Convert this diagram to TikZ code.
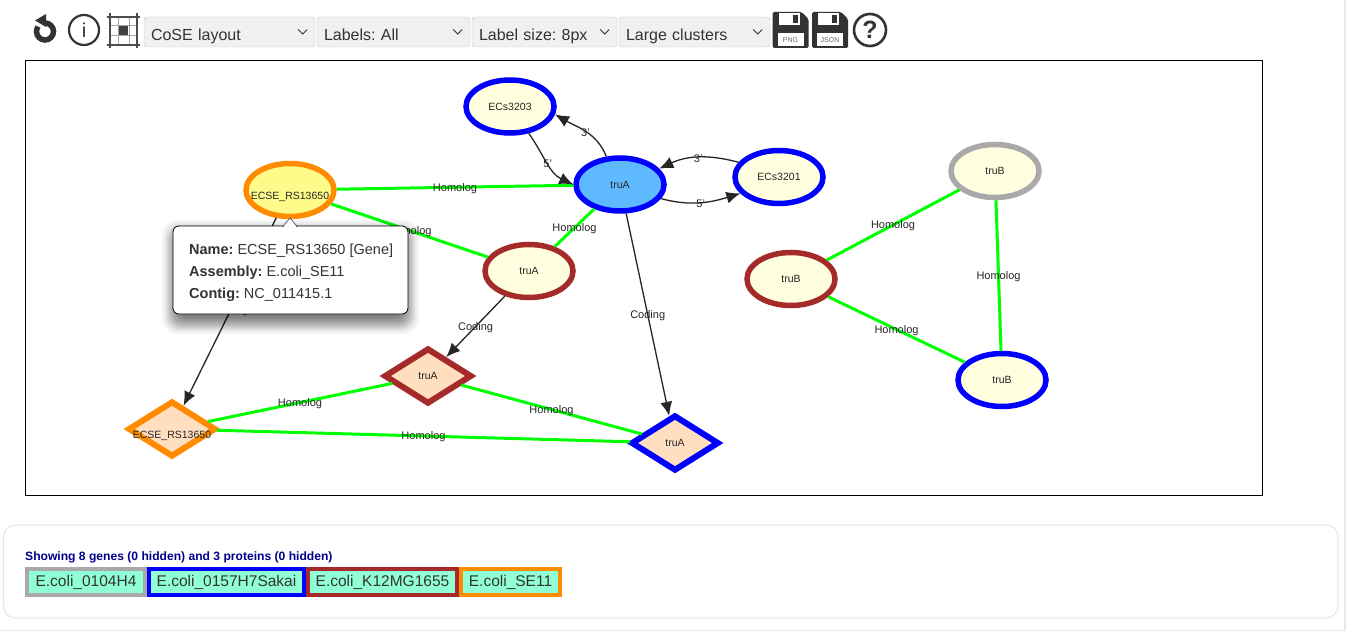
\documentclass[tikz,border=0pt]{standalone}
\usepackage{fontspec}
\setmainfont{Liberation Sans}
\usetikzlibrary{arrows.meta,shapes.geometric}
\definecolor{GrayClr}{HTML}{A9A9A9}
\definecolor{BlueClr}{HTML}{0000FF}
\definecolor{BrownClr}{HTML}{A52A2A}
\definecolor{OrangeClr}{HTML}{FF8C00}
\definecolor{GeneClr}{HTML}{FFFFE0}
\definecolor{PickClr}{HTML}{FFFB8A}
\definecolor{HitClr}{HTML}{5FB9FF}
\definecolor{ProtClr}{HTML}{FFDFC0}
\definecolor{EdgeClr}{HTML}{00FF00}
\definecolor{TagClr}{HTML}{90FFD6}
\definecolor{IconClr}{HTML}{333333}
\newcommand{\PxFont}[1]{\fontsize{#1}{#1}\selectfont}
\newcommand{\SelectBox}[4]{
\node[selectbox,minimum width=#3,text width=#3-14] (#1) at (#2+#3/2,32) {#4};
\draw[IconClr,line width=.8] (#1.east) ++(-17,-2.5) -- ++(4.5,4.5) -- ++(4.5,-4.5);
}
\newcommand{\FloppyIcon}[3]{
\fill[IconClr,rounded corners=1.5] (#1,12) -- (#1+29,12) -- (#1+36,19) -- (#1+36,48) -- (#1,48) -- cycle;
\fill[white] (#1+6,13) rectangle (#1+27,25);
\fill[IconClr] (#1+20,15) rectangle (#1+25,23);
\fill[white] (#1+5,33) rectangle (#1+31,46);
\node[black!60,font=\PxFont{7}] (#2) at (#1+18,40) {#3};
}
\tikzset{
  genebox/.style={ellipse,draw=#1,line width=5.5,fill=GeneClr,minimum width=88,minimum height=53,inner sep=0},
  protbox/.style={diamond,draw=#1,line width=6,fill=ProtClr,minimum width=88,minimum height=56,inner sep=0},
  nodetext/.style={label={[font=\PxFont{10.5},text=black!85]center:#1}},
  lowtext/.style={label={[font=\PxFont{10.5},text=black!85,yshift=-7]center:#1}},
  homolog/.style={EdgeClr,line width=3},
  coding/.style={black!85,line width=1.3,-{Latex[length=14,width=12]}},
  edgetext/.style={font=\PxFont{11},text=black!85,inner sep=0,yshift=-1},
  selectbox/.style={draw=black!22,fill=black!6,rounded corners=3,minimum height=30,inner xsep=7,inner ysep=0,align=left,font=\PxFont{16},text=IconClr,text height=21,text depth=3},
  tagbox/.style={draw=#1,line width=4,fill=TagClr,minimum height=26,inner sep=0,font=\PxFont{15.5},text=IconClr,text height=11,text depth=3},
  tiptext/.style={anchor=base west,inner sep=0,font=\PxFont{14.5},text=IconClr}
}
\begin{document}
\frenchspacing
\begin{tikzpicture}[x=1pt,y=-1pt]
\useasboundingbox (0,0) rectangle (1346,631);
\fill[white] (0,0) rectangle (1346,631);
\fill[black!9] (1344,0) rectangle (1346,631);
\fill[black!9] (0,630) rectangle (1346,631);

\draw[IconClr,line width=5.5] (45,23) arc (-90:215:8.5);
\fill[IconClr] (46,14) -- (46,27) -- (35,20.5) -- cycle;
\draw[IconClr,line width=2.2] (84,30) circle (15);
\node[IconClr,font=\PxFont{20}] (infomark) at (84,30) {i};
\draw[black!35,line width=1] (118,16) -- (118,45) (129.5,16) -- (129.5,45) (110,25.5) -- (137,25.5) (110,36) -- (137,36);
\draw[black!70,line width=2.8] (110,13) -- (110,48) (137,13) -- (137,48) (107,17) -- (140,17) (107,45) -- (140,45);
\fill[black!75] (119,26) rectangle (128,35);

\SelectBox{layoutsel}{144}{171}{CoSE layout}
\SelectBox{labelsel}{317}{153}{Labels: All}
\SelectBox{sizesel}{472}{145}{Label size: 8px}
\SelectBox{clustersel}{619}{151}{Large clusters}

\FloppyIcon{772.5}{pngmark}{PNG}
\FloppyIcon{812}{jsonmark}{JSON}
\draw[IconClr,line width=2.6] (870,30) circle (16);
\node[IconClr,font=\PxFont{25}\bfseries] (helpmark) at (870,30) {?};

\draw[black,line width=1.2] (25.5,60.5) rectangle (1262.5,495.5);

\node[genebox=BlueClr,nodetext=ECs3203] (ecsA) at (510,106.5) {};
\node[genebox=BlueClr,fill=HitClr,nodetext=truA] (truAblue) at (620,184.5) {};
\node[genebox=BlueClr,nodetext=ECs3201] (ecsB) at (779,177) {};
\node[genebox=OrangeClr,fill=PickClr,lowtext=ECSE\_RS13650] (ecseGene) at (290,190) {};
\node[genebox=BrownClr,nodetext=truA] (truAbrown) at (529,271) {};
\node[genebox=GrayClr,nodetext=truB] (truBgray) at (995,171) {};
\node[genebox=BrownClr,nodetext=truB] (truBbrown) at (791,279) {};
\node[genebox=BlueClr,nodetext=truB] (truBblue) at (1002,380) {};
\node[protbox=BrownClr,nodetext=truA] (protBrown) at (428,376) {};
\node[protbox=OrangeClr,lowtext=ECSE\_RS13650] (protOrange) at (172,429) {};
\node[protbox=BlueClr,nodetext=truA] (protBlue) at (675,443) {};

\draw[homolog] (ecseGene) -- (truAblue) node[midway,edgetext] {Homolog};
\draw[homolog] (ecseGene) -- (truAbrown) node[midway,edgetext] {Homolog};
\draw[homolog] (truAbrown) -- (truAblue) node[midway,edgetext] {Homolog};
\draw[homolog] (protOrange) -- (protBrown) node[midway,edgetext] {Homolog};
\draw[homolog] (protBrown) -- (protBlue) node[midway,edgetext] {Homolog};
\draw[homolog] (protOrange) -- (protBlue) node[midway,edgetext] {Homolog};
\draw[homolog] (truBbrown) -- (truBgray) node[midway,edgetext] {Homolog};
\draw[homolog] (truBgray) -- (truBblue) node[midway,edgetext] {Homolog};
\draw[homolog] (truBbrown) -- (truBblue) node[midway,edgetext] {Homolog};

\draw[coding] (truAblue) -- (protBlue) node[midway,edgetext] {Coding};
\draw[coding] (truAbrown) -- (protBrown) node[midway,edgetext] {Coding};
\draw[coding] (ecseGene) -- (protOrange) node[pos=.49,edgetext] {Coding};

\draw[coding] (truAblue.116) to[out=112,in=-30] node[midway,edgetext] {3'} (ecsA.-10);
\draw[coding] (ecsA.-55) to[out=-55,in=155] node[midway,edgetext] {5'} (truAblue.west);
\draw[coding] (truAblue.-19) to[out=-15,in=197] node[midway,edgetext] {5'} (ecsB.203);
\draw[coding] (ecsB.160) to[out=165,in=25] node[midway,edgetext] {3'} (truAblue.22);

\foreach \s in {-3,-2,...,10,12,14}
  \fill[black,opacity=.04,rounded corners=6+\s/2+3] (176-\s,234-\s) rectangle (405+\s,320+\s);
\node[draw=black,fill=white,line width=.8,rounded corners=6,minimum width=235,minimum height=88,inner sep=0] (tooltip) at (290.5,270) {};
\filldraw[draw=black!60,fill=white,line width=.8] (283,226.4) -- (290,218) -- (297,226.4) -- cycle;
\fill[white] (283.6,225.8) rectangle (296.4,227);
\node[tiptext] (tipName) at (189,254) {\textbf{Name:} ECSE\_RS13650 [Gene]};
\node[tiptext] (tipAssembly) at (189,276) {\textbf{Assembly:} E.coli\_SE11};
\node[tiptext] (tipContig) at (189,298) {\textbf{Contig:} NC\_011415.1};

\draw[black!10,line width=1,rounded corners=12] (3.5,525) rectangle (1338,618);
\node[anchor=base west,inner sep=0,font=\PxFont{12.1}\bfseries,text=blue!55!black] (summary) at (25,560) {Showing 8 genes (0 hidden) and 3 proteins (0 hidden)};
\node[tagbox=GrayClr,minimum width=118] (tagA) at (86,582) {E.coli\_0104H4};
\node[tagbox=BlueClr,minimum width=155] (tagB) at (226.5,582) {E.coli\_0157H7Sakai};
\node[tagbox=BrownClr,minimum width=149] (tagC) at (382.5,582) {E.coli\_K12MG1655};
\node[tagbox=OrangeClr,minimum width=99] (tagD) at (510.5,582) {E.coli\_SE11};
\end{tikzpicture}
\end{document}
